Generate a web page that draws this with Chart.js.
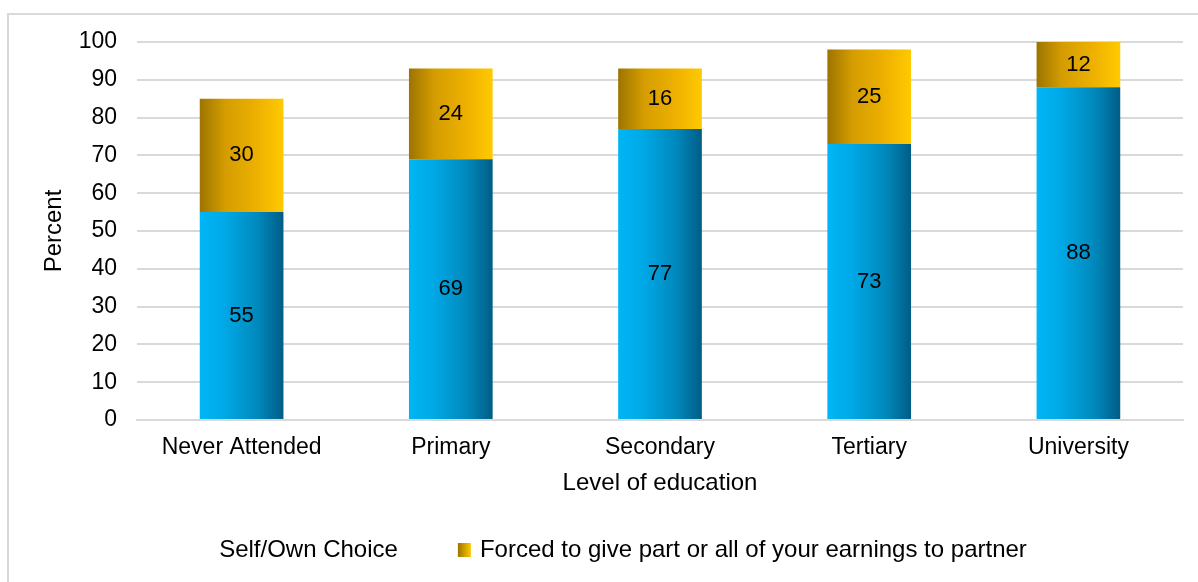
<!DOCTYPE html>
<html>
<head>
<meta charset="utf-8">
<title>Level of education</title>
<script src="https://cdn.jsdelivr.net/npm/chart.js@4.4.0/dist/chart.umd.min.js"></script>
<style>
    html, body { margin: 0; padding: 0; background: #fff; overflow: hidden; }
    .wrap { position: relative; width: 1198px; height: 582px; }
    .frame { position: absolute; left: 7px; top: 13px; width: 1300px; height: 700px; border: 2px solid #d9d9d9; }
    canvas { position: absolute; left: 0; top: 0; }
</style>
</head>
<body>
<div class="wrap">
    <div class="frame"></div>
    <canvas id="educationChart" width="1198" height="582"></canvas>
</div>
<script>
// Chart data
const categories = ['Never Attended', 'Primary', 'Secondary', 'Tertiary', 'University'];
const selfChoice = [55, 69, 77, 73, 88];
const forced = [30, 24, 16, 25, 12];
const yTicks = [0, 10, 20, 30, 40, 50, 60, 70, 80, 90, 100];
const seriesNames = ['Self/Own Choice', 'Forced to give part or all of your earnings to partner'];

const FONT = "'Liberation Sans', Arial, sans-serif";
const BAR_PCT = 0.4;
const blueStops = ['#00b6f5', '#00a8e6', '#0088bb', '#005d87'];
const goldStops = ['#9c7400', '#d49c00', '#efb200', '#ffca00'];

function barGradient(stops) {
    return function(context) {
        const chart = context.chart;
        const area = chart.chartArea;
        if (!area || context.dataIndex === undefined) return stops[1];
        const x = chart.scales.x.getPixelForValue(context.dataIndex);
        const w = (area.width / categories.length) * BAR_PCT;
        const g = chart.ctx.createLinearGradient(x - w / 2, 0, x + w / 2, 0);
        g.addColorStop(0, stops[0]);
        g.addColorStop(0.3, stops[1]);
        g.addColorStop(0.7, stops[2]);
        g.addColorStop(1, stops[3]);
        return g;
    };
}

// values written in the middle of each segment
const segmentLabels = {
    id: 'segmentLabels',
    afterDatasetsDraw(chart) {
        const ctx = chart.ctx;
        ctx.save();
        ctx.font = '22px ' + FONT;
        ctx.fillStyle = '#000';
        ctx.textAlign = 'center';
        ctx.textBaseline = 'middle';
        chart.data.datasets.forEach((ds, i) => {
            chart.getDatasetMeta(i).data.forEach((bar, j) => {
                ctx.fillText(String(ds.data[j]), bar.x, (bar.y + bar.base) / 2);
            });
        });
        ctx.restore();
    }
};

// legend: first entry has no visible swatch, second a gold gradient swatch
const bottomLegend = {
    id: 'bottomLegend',
    afterDraw(chart) {
        const ctx = chart.ctx;
        ctx.save();
        ctx.font = '24px ' + FONT;
        ctx.textBaseline = 'middle';
        ctx.fillStyle = '#000';
        const box = 13, gap = 9, spacing = 60;
        const w1 = ctx.measureText(seriesNames[0]).width;
        const w2 = ctx.measureText(seriesNames[1]).width;
        const total = w1 + spacing + box + gap + w2;
        const y = 550;
        let x = chart.width / 2 + 24 - total / 2;
        ctx.fillText(seriesNames[0], x, y);
        x += w1 + spacing;
        const g = ctx.createLinearGradient(x, 0, x + box, 0);
        g.addColorStop(0, goldStops[0]);
        g.addColorStop(1, goldStops[3]);
        ctx.fillStyle = g;
        ctx.fillRect(x, y - 7, box, 14);
        ctx.fillStyle = '#000';
        ctx.fillText(seriesNames[1], x + box + gap, y);
        ctx.restore();
    }
};

function initEducationChart() {
    const ctx = document.getElementById('educationChart');
    if (!ctx) return;

    new Chart(ctx, {
        type: 'bar',
        data: {
            labels: categories,
            datasets: [{
                label: seriesNames[0],
                data: selfChoice,
                backgroundColor: barGradient(blueStops),
                barPercentage: BAR_PCT,
                categoryPercentage: 1
            }, {
                label: seriesNames[1],
                data: forced,
                backgroundColor: barGradient(goldStops),
                barPercentage: BAR_PCT,
                categoryPercentage: 1
            }]
        },
        options: {
            responsive: false,
            animation: false,
            layout: { padding: { left: 20, top: 42, right: 15, bottom: 72 } },
            plugins: {
                legend: { display: false },
                tooltip: { enabled: false }
            },
            scales: {
                x: {
                    stacked: true,
                    grid: { display: false, drawTicks: false },
                    border: { display: true, color: '#d9d9d9', width: 2 },
                    ticks: { color: '#000', padding: 14, font: { family: FONT, size: 23 } },
                    title: {
                        display: true,
                        text: 'Level of education',
                        color: '#000',
                        font: { family: FONT, size: 24 },
                        padding: { top: 4, bottom: 12 }
                    },
                    afterFit(scale) { scale.height = 90; }
                },
                y: {
                    stacked: true,
                    min: 0,
                    max: 100,
                    afterBuildTicks(scale) { scale.ticks = yTicks.map(v => ({ value: v })); },
                    grid: { color: '#d9d9d9', lineWidth: 2, drawTicks: false },
                    border: { display: false },
                    ticks: { color: '#000', padding: 20, font: { family: FONT, size: 23 } },
                    title: {
                        display: true,
                        text: 'Percent',
                        color: '#000',
                        font: { family: FONT, size: 24 },
                        padding: { top: 20, bottom: 4 }
                    },
                    afterFit(scale) { scale.width = 117; }
                }
            }
        },
        plugins: [segmentLabels, bottomLegend]
    });
}

document.addEventListener('DOMContentLoaded', initEducationChart);
</script>
</body>
</html>
